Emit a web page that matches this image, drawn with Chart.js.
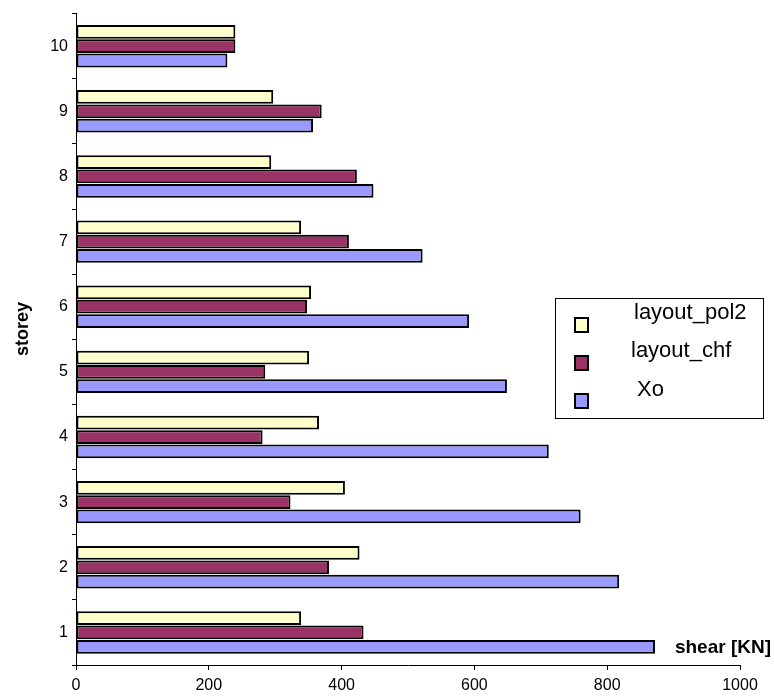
<!DOCTYPE html>
<html>
<head>
<meta charset="utf-8">
<script src="https://cdn.jsdelivr.net/npm/chart.js@4.4.1/dist/chart.umd.min.js"></script>
<style>
  body { margin: 0; background: #fff; }
  #wrap { width: 774px; height: 699px; position: relative; }
</style>
</head>
<body>
<div id="wrap"><canvas id="shearChart"></canvas></div>
<script>
// storeys, bottom to top
var storeys = ['1', '2', '3', '4', '5', '6', '7', '8', '9', '10'];
// shear per storey [KN]
var pol2Values = [339, 427, 405, 366, 351, 354, 339, 294, 297, 240];
var chfValues  = [433, 381, 323, 281, 285, 348, 411, 423, 370, 240];
var xoValues   = [872, 818, 760, 712, 649, 592, 522, 448, 357, 228];
var seriesNames = ['layout_pol2', 'layout_chf', 'Xo'];
var xTicks = [0, 200, 400, 600, 800, 1000];

var colors = ['#FFFFCC', '#993366', '#9999FF'];

// draws the boxed legend and the two axis titles
var extrasPlugin = {
    id: 'extras',
    afterDraw: function(chart) {
        var ctx = chart.ctx;
        ctx.save();
        // legend box
        ctx.strokeStyle = '#000';
        ctx.lineWidth = 1;
        ctx.strokeRect(555.5, 298.5, 208, 120);
        var textX = [634, 631, 637];
        var textY = [313, 351, 390];
        ctx.font = '22px "Liberation Sans", Arial, sans-serif';
        ctx.textBaseline = 'middle';
        ctx.textAlign = 'left';
        chart.data.datasets.forEach(function(ds, i) {
            ctx.fillStyle = ds.backgroundColor;
            ctx.fillRect(575, 318 + i * 38, 13, 14);
            ctx.lineWidth = 2;
            ctx.strokeStyle = '#000';
            ctx.strokeRect(575, 318 + i * 38, 13, 14);
            ctx.fillStyle = '#000';
            ctx.fillText(ds.label, textX[i], textY[i]);
        });
        // x title
        ctx.font = 'bold 19px "Liberation Sans", Arial, sans-serif';
        ctx.textAlign = 'right';
        ctx.textBaseline = 'alphabetic';
        ctx.fillText('shear [KN]', 771, 653);
        // y title
        ctx.translate(23, 329);
        ctx.rotate(-Math.PI / 2);
        ctx.textAlign = 'center';
        ctx.textBaseline = 'middle';
        ctx.font = 'bold 18px "Liberation Sans", Arial, sans-serif';
        ctx.fillText('storey', 0, 0);
        ctx.restore();
    }
};

var shearChart = new Chart(document.getElementById('shearChart'), {
    type: 'bar',
    data: {
        labels: storeys,
        datasets: [{
            label: seriesNames[0],
            data: pol2Values,
            backgroundColor: colors[0]
        },
        {
            label: seriesNames[1],
            data: chfValues,
            backgroundColor: colors[1]
        },
        {
            label: seriesNames[2],
            data: xoValues,
            backgroundColor: colors[2]
        }]
    },
    options: {
        indexAxis: 'y',
        responsive: true,
        maintainAspectRatio: false,
        animation: false,
        layout: {
            padding: { top: 9, right: 34, left: 0, bottom: 0 }
        },
        datasets: {
            bar: {
                borderColor: '#000',
                borderWidth: 2,
                borderSkipped: false,
                categoryPercentage: 0.66,
                barPercentage: 0.96
            }
        },
        scales: {
            x: {
                min: 0,
                max: 1000,
                afterBuildTicks: function(scale) {
                    scale.ticks = xTicks.map(function(v) { return { value: v }; });
                },
                afterFit: function(scale) { scale.height = 34; },
                grid: { drawOnChartArea: false, drawTicks: true, tickLength: 5, color: '#000' },
                border: { display: true, color: '#000', width: 1 },
                ticks: {
                    color: '#000',
                    padding: 6,
                    maxRotation: 0,
                    callback: function(value) { return String(value); },
                    font: { size: 16, family: '"Liberation Sans", Arial, sans-serif' }
                }
            },
            y: {
                reverse: true,
                afterFit: function(scale) { scale.width = 76; },
                grid: { drawOnChartArea: false, drawTicks: true, tickLength: 4, color: '#000', offset: true },
                border: { display: true, color: '#000', width: 1 },
                ticks: {
                    color: '#000',
                    padding: 4,
                    font: { size: 16, family: '"Liberation Sans", Arial, sans-serif' }
                }
            }
        },
        plugins: {
            legend: { display: false },
            tooltip: { enabled: false }
        }
    },
    plugins: [extrasPlugin]
});
</script>
</body>
</html>
